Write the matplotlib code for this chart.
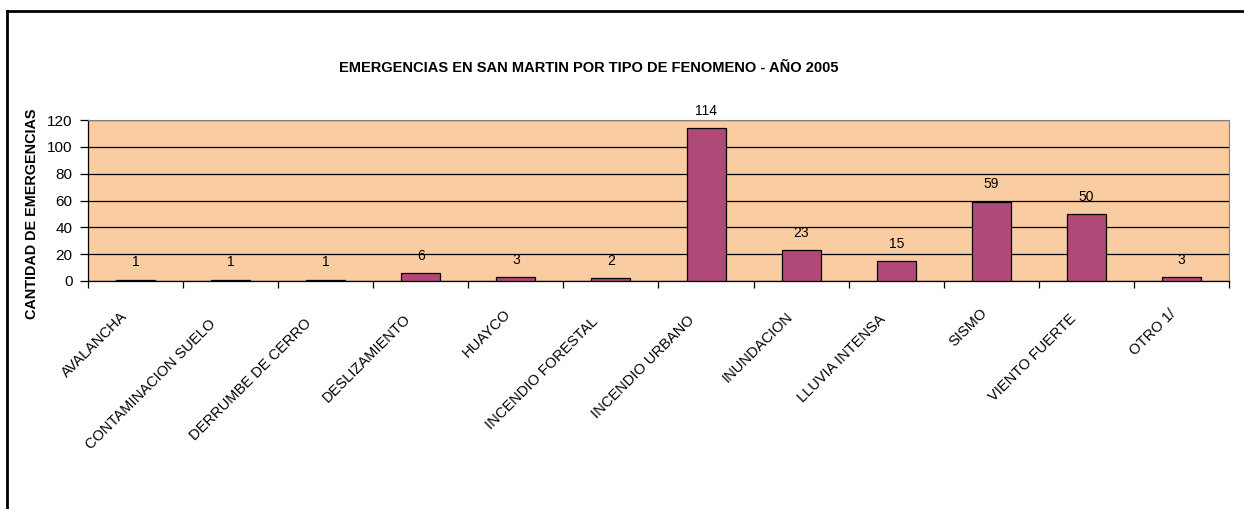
import numpy as np
import matplotlib
matplotlib.use('Agg')
import matplotlib.pyplot as plt
from matplotlib.lines import Line2D
from matplotlib.transforms import ScaledTranslation

# Data
categories = ['AVALANCHA', 'CONTAMINACION SUELO', 'DERRUMBE DE CERRO', 'DESLIZAMIENTO',
              'HUAYCO', 'INCENDIO FORESTAL', 'INCENDIO URBANO', 'INUNDACION',
              'LLUVIA INTENSA', 'SISMO', 'VIENTO FUERTE', 'OTRO 1/']
emergencias = [1, 1, 1, 6, 3, 2, 114, 23, 15, 59, 50, 3]
y_ticks = [0, 20, 40, 60, 80, 100, 120]

title = 'EMERGENCIAS EN SAN MARTIN POR TIPO DE FENOMENO - AÑO 2005'
y_label = 'CANTIDAD DE EMERGENCIAS'

plt.rcParams['font.family'] = ['Liberation Sans', 'DejaVu Sans']

fig = plt.figure(figsize=(12.44, 5.09), dpi=100)
ax = fig.add_axes([88 / 1244, 1 - 281 / 509, (1229 - 88) / 1244, (281 - 120) / 509])
ax.set_facecolor('#F9CCA2')

x = np.arange(len(categories))
bars = ax.bar(x, emergencias, width=0.41, color='#AF4978', edgecolor='black',
              linewidth=0.9, zorder=3)

for xi, v in zip(x, emergencias):
  ax.annotate(str(v), (xi, v), xytext=(0, 12.5), textcoords='offset points',
              ha='center', va='center', fontsize=10)

ax.set_xlim(-0.5, len(categories) - 0.5)
ax.set_ylim(0, 120)
ax.set_yticks(y_ticks)
ax.yaxis.grid(True, color='black', linewidth=0.9, zorder=1)
ax.set_axisbelow(True)

# ticks between categories, labels at category centers
ax.set_xticks(np.arange(len(categories) + 1) - 0.5)
ax.set_xticklabels([])
ax.set_xticks(x, minor=True)
ax.set_xticklabels(categories, minor=True, rotation=45, ha='right', va='top',
                   rotation_mode='anchor', fontsize=10.5)
ax.tick_params(axis='x', which='major', direction='out', length=5, width=0.9)
ax.tick_params(axis='x', which='minor', length=0, pad=0)
ax.tick_params(axis='y', direction='out', length=6, width=0.9, pad=5, labelsize=11)

for side in ['top', 'right']:
  ax.spines[side].set_color('#808080')
  ax.spines[side].set_linewidth(0.8)
for side in ['left', 'bottom']:
  ax.spines[side].set_color('black')
  ax.spines[side].set_linewidth(0.9)

fig.text(589 / 1244, 1 - 68 / 509, title, ha='center', va='center',
         fontsize=10.5, fontweight='bold')
fig.text(32 / 1244, 1 - 214 / 509, y_label, ha='center', va='center',
         rotation=90, fontsize=10.4, fontweight='bold')

# outer chart frame (only top and left edges visible)
fig.add_artist(Line2D([6.5 / 1244, 1], [1 - 11 / 509, 1 - 11 / 509],
                      transform=fig.transFigure, color='black', linewidth=2))
fig.add_artist(Line2D([6.5 / 1244, 6.5 / 1244], [0, 1 - 11 / 509],
                      transform=fig.transFigure, color='black', linewidth=2))

# longer rotated labels sit a bit further down-left, like the spreadsheet does
fig.canvas.draw()
renderer = fig.canvas.get_renderer()
for lbl in ax.get_xticklabels(minor=True):
  bb = lbl.get_window_extent(renderer)
  h = 1.15 * lbl.get_fontsize() * fig.dpi / 72
  length = bb.width * np.sqrt(2) - h
  k = 0.085 * length
  dx = (-7.7 - k) / fig.dpi
  dy = -(21 + k) / fig.dpi
  lbl.set_transform(lbl.get_transform() + ScaledTranslation(dx, dy, fig.dpi_scale_trans))

fig.savefig('out.png', dpi=100)
